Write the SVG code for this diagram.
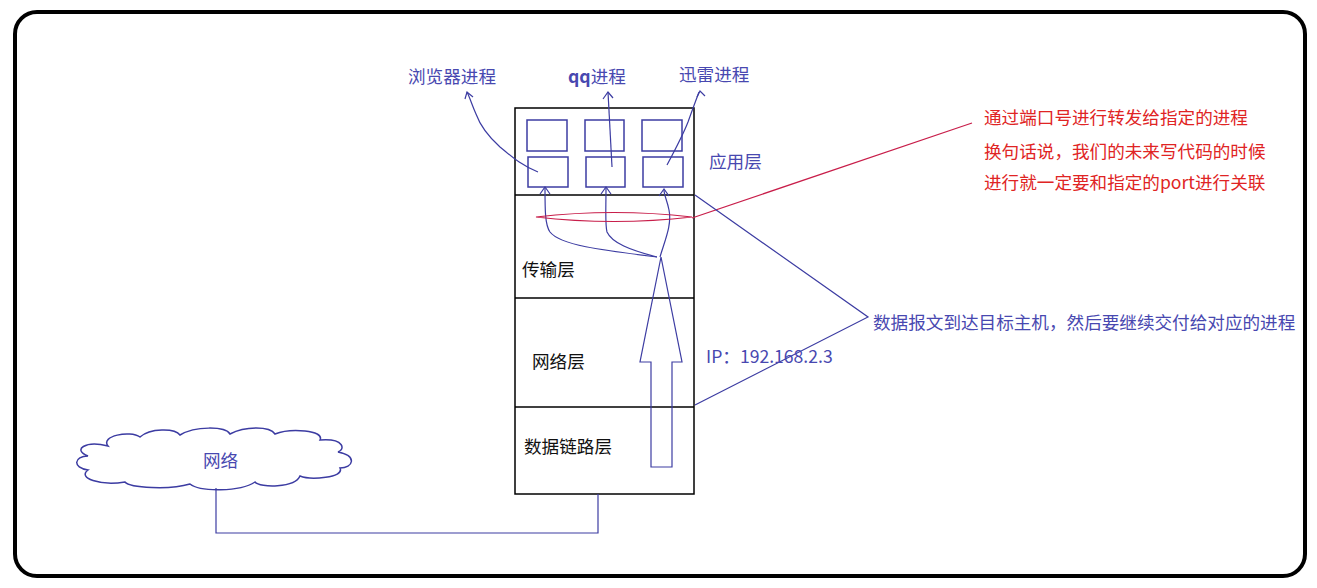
<svg xmlns="http://www.w3.org/2000/svg" width="1317" height="588" viewBox="0 0 1317 588">
<style>
text{font-family:"Noto Sans CJK SC","Microsoft YaHei",sans-serif;font-size:17.6px}
.b{fill:#4848b0}
.r{fill:#e02424}
.k{fill:#111}
.bl{fill:none;stroke:#3c3ca2;stroke-width:1.2}
.box{fill:#fff;stroke:#3c3ca2;stroke-width:1.5}
.blk{fill:none;stroke:#000;stroke-width:1.5}
.rl{fill:none;stroke:#c81e4a;stroke-width:1.2}
</style>
<rect x="0" y="0" width="1317" height="588" fill="#fff"/>
<rect x="15" y="12" width="1290" height="564" rx="22" fill="#fff" stroke="#000" stroke-width="4"/>

<g id="stack">
<rect x="515" y="108" width="179" height="386" class="blk"/>
<line x1="515" y1="195" x2="694" y2="195" class="blk"/>
<line x1="515" y1="298" x2="694" y2="298" class="blk"/>
<line x1="515" y1="407" x2="694" y2="407" class="blk"/>
</g>
<g id="app-boxes">
<rect x="527" y="120" width="40" height="31" class="box"/>
<rect x="585" y="120" width="39" height="31" class="box"/>
<rect x="642" y="120" width="40" height="31" class="box"/>
<rect x="528" y="157" width="40" height="30" class="box"/>
<rect x="586" y="157" width="39" height="30" class="box"/>
<rect x="643" y="157" width="40" height="30" class="box"/>
</g>
<g id="cloud">
<path class="box" d="M108,446 C100,436 130,430 140,437 C150,428 175,428 180,435 C195,426 225,426 230,434 C245,426 270,426 275,434 C290,428 325,430 320,440 C345,438 345,450 338,452 C358,456 353,468 340,468 C345,478 310,480 300,476 C295,488 260,488 255,482 C240,492 200,492 190,484 C170,490 130,488 125,482 C100,486 77,478 88,470 C72,468 74,456 88,456 C72,450 85,440 108,446 Z"/>
<text x="203" y="467" class="b">网络</text>
</g>

<g id="connectors">
<path class="bl" d="M216,488 V533 H598 V494"/>
<polygon class="bl" points="651,467 672,467 672,362 682,362 661,257 640,362 651,362"/>
<path class="bl" d="M657,257 C600,250 560,245 550,232 C545,225 545,210 545,188"/>
<path class="bl" d="M540,194 L545,187 L550,194"/>
<path class="bl" d="M657,257 C630,250 612,243 607,232 C605,225 606,210 606,188"/>
<path class="bl" d="M601,194 L606,187 L611,194"/>
<path class="bl" d="M660,257 C665,240 672,225 669,210 C667,200 664,195 664,190"/>
<path class="bl" d="M659,196 L664,189 L669,196"/>
<path class="bl" d="M538,172 C520,165 510,155 500,147 C490,138 480,125 476,114 C472,105 470,98 467,92"/>
<path class="bl" d="M465,99 L467,92 L473,97"/>
<path class="bl" d="M612,167 L608,92"/>
<path class="bl" d="M603,99 L608,92 L613,98"/>
<path class="bl" d="M667,165 C675,150 683,135 688,122 C693,108 696,100 699,92"/>
<path class="bl" d="M697,97 L700,91 L705,96"/>
<path class="rl" d="M692,218 L972,123"/>
<path class="rl" d="M536,217 Q614,208 692,217 Q614,226 536,217 Z"/>
<path class="bl" d="M695,195 L868,317 L695,405"/>
</g>

<g id="labels">
<text x="408" y="83" class="b">浏览器进程</text>
<text x="568" y="83" class="b" font-weight="bold">qq<tspan font-weight="normal">进程</tspan></text>
<text x="679" y="81" class="b">迅雷进程</text>
<text x="709" y="168" class="b">应用层</text>
<text x="522" y="276" class="k">传输层</text>
<text x="532" y="368" class="k">网络层</text>
<text x="524" y="453" class="k">数据链路层</text>
<text x="706" y="363" class="b">IP：192.168.2.3</text>
</g>
<g id="notes">
<text x="984" y="124" class="r">通过端口号进行转发给指定的进程</text>
<text x="984" y="158" class="r">换句话说，我们的未来写代码的时候</text>
<text x="984" y="189" class="r">进行就一定要和指定的port进行关联</text>
<text x="873" y="329" class="b">数据报文到达目标主机，然后要继续交付给对应的进程</text>
</g>
</svg>
